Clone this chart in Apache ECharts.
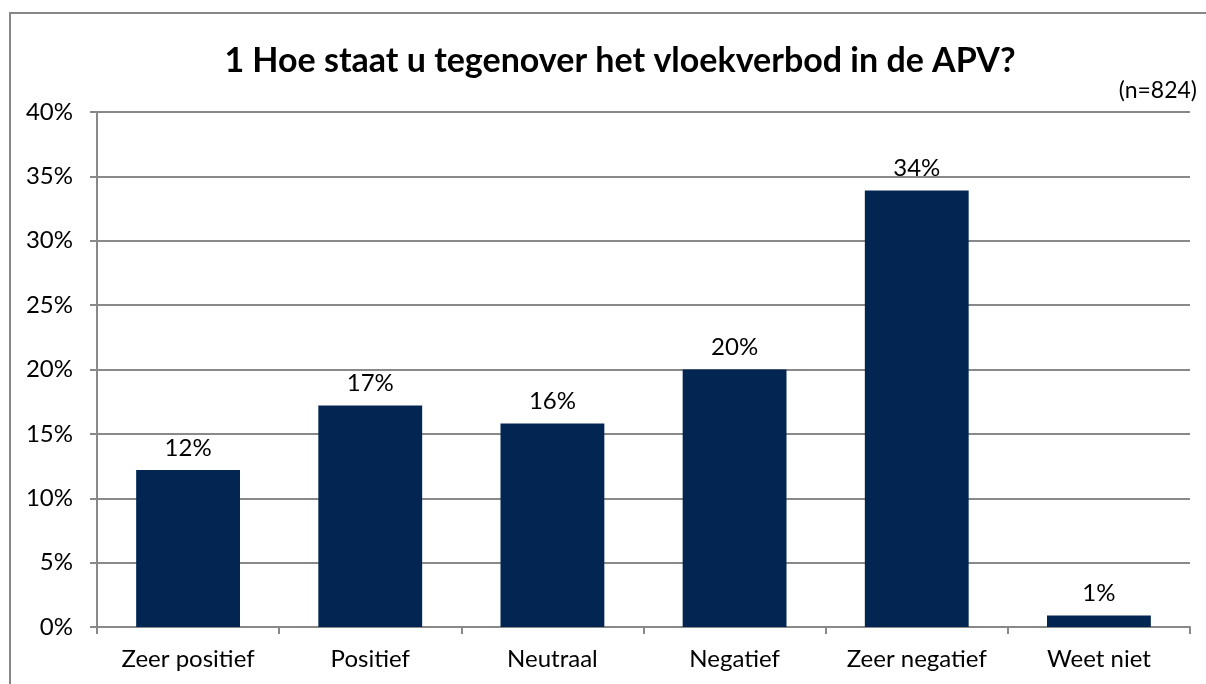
<!DOCTYPE html>
<html>
<head>
<meta charset="utf-8">
<script src="https://cdn.jsdelivr.net/npm/echarts@6/dist/echarts.min.js"></script>
<style>
	html,body{margin:0;padding:0;background:#fff}
	#chart{width:1206px;height:684px}
</style>
</head>
<body>
<div id="chart"></div>
<script>
// categorieën en percentages uit de grafiek
var categories = ['Zeer positief', 'Positief', 'Neutraal', 'Negatief', 'Zeer negatief', 'Weet niet'];
var percentages = [12.2, 17.2, 15.8, 20.0, 33.9, 0.9];
var yTicks = [0, 5, 10, 15, 20, 25, 30, 35, 40];

var font = 'Lato, "Open Sans", sans-serif';
var myChart = echarts.init(document.getElementById('chart'));
var option = {
	animation: false,
	title: [
		{
			text: '1 Hoe staat u tegenover het vloekverbod in de APV?',
			left: 615,
			top: 39,
			textAlign: 'center',
			textStyle: {fontFamily: font, fontSize: 34, fontWeight: 'bold', color: '#000'}
		},
		{
			text: '(n=824)',
			right: 4,
			top: 74,
			textStyle: {fontFamily: font, fontSize: 23, fontWeight: 'normal', color: '#000'}
		}
	],
	graphic: [
		{
			// kader links en boven
			type: 'polyline',
			shape: {points: [[10, 700], [10, 13], [1220, 13]]},
			style: {fill: null, stroke: '#878787', lineWidth: 2},
			silent: true
		}
	],
	grid: {left: 97, right: 16, top: 112, bottom: 57},
	xAxis: {
		type: 'category',
		data: categories,
		axisLine: {lineStyle: {color: '#898989', width: 2}},
		axisTick: {show: true, interval: 0, length: 7, lineStyle: {color: '#898989', width: 2}},
		axisLabel: {interval: 0, fontFamily: font, fontSize: 24, color: '#000', margin: 20}
	},
	yAxis: {
		type: 'value',
		min: yTicks[0],
		max: yTicks[yTicks.length - 1],
		interval: 5,
		axisLine: {show: true, lineStyle: {color: '#898989', width: 2}},
		axisTick: {show: true, length: 7, lineStyle: {color: '#898989', width: 2}},
		splitLine: {lineStyle: {color: '#898989', width: 2}},
		axisLabel: {fontFamily: font, fontSize: 24, color: '#000', margin: 24, formatter: '{value}%'}
	},
	series: [
		{
			type: 'bar',
			data: percentages,
			barWidth: '57%',
			itemStyle: {color: '#022552'},
			label: {
				show: true,
				position: 'top',
				distance: 10,
				fontFamily: font,
				fontSize: 24,
				color: '#000',
				formatter: function (p) { return Math.round(p.value) + '%'; }
			}
		}
	]
};
myChart.setOption(option);
</script>
</body>
</html>
